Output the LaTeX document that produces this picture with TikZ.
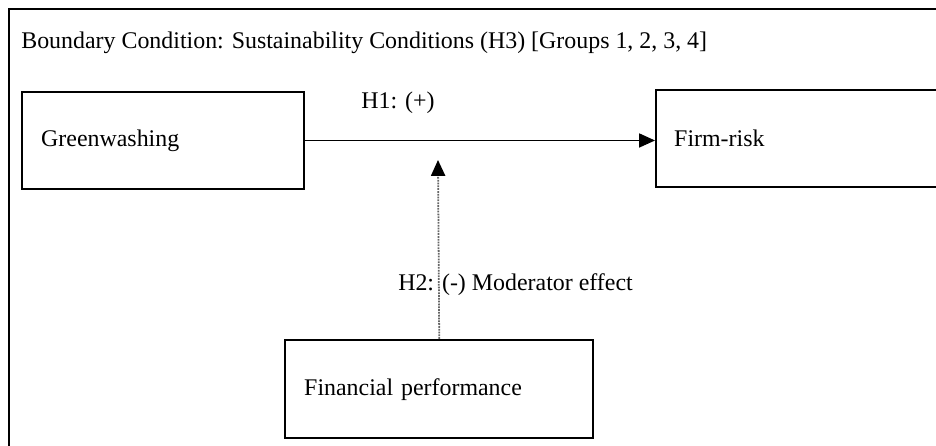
\documentclass[tikz,border=0pt]{standalone}
\usepackage{fontspec}
\setmainfont{Liberation Serif}
\usepackage{tikz}
\usetikzlibrary{arrows.meta}
\tikzstyle{varbox} = [rectangle, 
anchor=north west, 
line width=1.4pt, 
draw=black, 
align=left, 
inner xsep=0.38cm, 
minimum height=1.93cm]
\tikzstyle{label} = [inner sep=0pt]
\tikzstyle{arrow} = [line width=0.6pt,-{Triangle[length=9pt,width=8pt]}]
\tikzstyle{modarrow} = [line width=1pt, dash pattern=on 1pt off 0.6pt, draw=black!60, -{Triangle[length=9pt,width=8pt,color=black]}]

\begin{document}
\begin{tikzpicture}[font=\fontsize{13.6}{16}\selectfont]

    \useasboundingbox (0,0) rectangle (18.72,-8.92);
    \clip (0,0) rectangle (18.72,-8.92);

    % outer frame
    \draw [line width=0.7pt] (0.18,-0.18) rectangle (20,-10);
    \node (cond) [label, anchor=west] at (0.42,-0.86) {Boundary Condition: Sustainability Conditions (H3) [Groups 1, 2, 3, 4]};

    \node (gw) [varbox, text width=4.88cm] at (0.42,-1.82) {Greenwashing};
    \node (risk) [varbox, text width=5.3cm, inner xsep=0.36cm] at (13.10,-1.78) {Firm-risk};
    \node (perf) [varbox, text width=5.4cm, minimum height=1.96cm] at (5.68,-6.78) {Financial performance};

    \coordinate (mod) at (8.76,-3.2);

    \node (h1) [label] at (7.96,-2.06) {H1: (+)};
    \node (h2) [label] at (10.31,-5.70) {H2: (-) Moderator effect};

    \draw [arrow] (gw.east) -- (gw.east -| risk.west);
    \draw [modarrow] (perf.north) -- (mod);

\end{tikzpicture}
\end{document}
